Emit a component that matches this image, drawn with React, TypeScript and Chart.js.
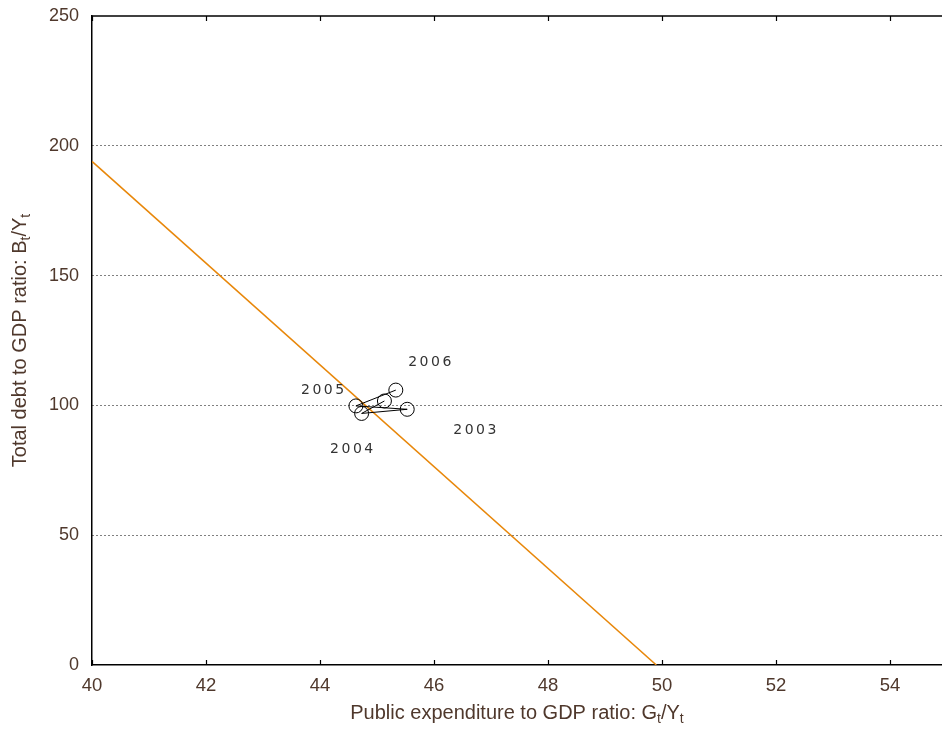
import React, { useEffect, useRef } from "react";
import { Chart, registerables } from "chart.js";

Chart.register(...registerables);

// Data
const xTicks = [40, 42, 44, 46, 48, 50, 52, 54];
const yTicks = [0, 50, 100, 150, 200, 250];
const frontierX = [40, 49.9];
const frontierY = [194, 0];
const pathX = [45.13, 44.73, 45.53, 44.63, 45.33];
const pathY = [101.7, 96.9, 98.5, 99.8, 105.9];
const yearLabels = ["2003", "2004", "2005", "2006"];
const yearLabelX = [46.72, 44.56, 44.05, 45.93];
const yearLabelY = [90.5, 83.0, 105.8, 116.5];

const X_MIN = 40;
const X_MAX = 54.912;
const Y_MIN = 0;
const Y_MAX = 250;
const TEXT_COLOR = "#4f382c";
const FONT = "Liberation Sans, Arial, sans-serif";

function drawSubText(
  ctx: CanvasRenderingContext2D,
  parts: { t: string; sub?: boolean }[],
  size: number
) {
  let total = 0;
  for (const p of parts) {
    ctx.font = `${p.sub ? size * 0.7 : size}px ${FONT}`;
    total += ctx.measureText(p.t).width;
  }
  let x = -total / 2;
  for (const p of parts) {
    ctx.font = `${p.sub ? size * 0.7 : size}px ${FONT}`;
    ctx.fillText(p.t, x, p.sub ? size * 0.3 : 0);
    x += ctx.measureText(p.t).width;
  }
}

const customPlugin = {
  id: "custom",
  afterDatasetsDraw(chart: any) {
    const { ctx, scales, chartArea } = chart;
    const xs = scales.x;
    const ys = scales.y;
    ctx.save();
    // year labels
    ctx.font = `14px "DejaVu Sans", sans-serif`;
    (ctx as any).letterSpacing = "2.5px";
    ctx.fillStyle = "#333333";
    ctx.textAlign = "center";
    ctx.textBaseline = "middle";
    yearLabels.forEach((lab, i) => {
      ctx.fillText(lab, xs.getPixelForValue(yearLabelX[i]) + 1, ys.getPixelForValue(yearLabelY[i]));
    });
    (ctx as any).letterSpacing = "0px";
    // top border
    ctx.strokeStyle = "#000";
    ctx.lineWidth = 1.5;
    ctx.beginPath();
    ctx.moveTo(chartArea.left, chartArea.top);
    ctx.lineTo(chartArea.right, chartArea.top);
    ctx.stroke();
    // x tick marks (bottom and top, inward)
    ctx.lineWidth = 1.2;
    xTicks.forEach((v) => {
      const px = Math.round(xs.getPixelForValue(v)) + 0.5;
      ctx.beginPath();
      ctx.moveTo(px, chartArea.bottom);
      ctx.lineTo(px, chartArea.bottom - 5);
      ctx.moveTo(px, chartArea.top);
      ctx.lineTo(px, chartArea.top + 5);
      ctx.stroke();
    });
    // axis titles with subscripts
    ctx.fillStyle = TEXT_COLOR;
    ctx.textAlign = "left";
    ctx.textBaseline = "middle";
    ctx.save();
    ctx.translate((chartArea.left + chartArea.right) / 2, 713);
    drawSubText(
      ctx,
      [
        { t: "Public expenditure to GDP ratio: G" },
        { t: "t", sub: true },
        { t: "/Y" },
        { t: "t", sub: true },
      ],
      20
    );
    ctx.restore();
    ctx.save();
    ctx.translate(20, (chartArea.top + chartArea.bottom) / 2);
    ctx.rotate(-Math.PI / 2);
    drawSubText(
      ctx,
      [
        { t: "Total debt to GDP ratio: B" },
        { t: "t", sub: true },
        { t: "/Y" },
        { t: "t", sub: true },
      ],
      20
    );
    ctx.restore();
    ctx.restore();
  },
};

export default function App() {
  const ref = useRef<HTMLCanvasElement | null>(null);
  useEffect(() => {
    if (!ref.current) return;
    const frontier = frontierX.map((x, i) => ({ x, y: frontierY[i] }));
    const path = pathX.map((x, i) => ({ x, y: pathY[i] }));
    const chart = new Chart(ref.current, {
      type: "scatter",
      data: {
        datasets: [
          {
            data: path,
            showLine: true,
            borderColor: "#000",
            borderWidth: 1,
            pointRadius: 7,
            pointBorderWidth: 1,
            pointBorderColor: "#000",
            pointBackgroundColor: "rgba(0,0,0,0)",
            backgroundColor: "rgba(0,0,0,0)",
          },
          {
            data: frontier,
            showLine: true,
            borderColor: "#e8870a",
            borderWidth: 1.5,
            pointRadius: 0,
          },
        ],
      },
      options: {
        animation: false,
        responsive: false,
        devicePixelRatio: 1,
        layout: { autoPadding: false, padding: { left: 0, right: 0, top: 16, bottom: 0 } },
        plugins: {
          legend: { display: false },
          tooltip: { enabled: false },
        },
        scales: {
          x: {
            type: "linear",
            min: X_MIN,
            max: X_MAX,
            afterBuildTicks: (scale: any) => {
              scale.ticks = xTicks.map((v) => ({ value: v }));
            },
            afterFit: (scale: any) => {
              scale.height = 68;
              scale.paddingLeft = 0;
              scale.paddingRight = 0;
            },
            ticks: {
              color: TEXT_COLOR,
              font: { family: FONT, size: 18.5 },
              padding: 10,
              maxRotation: 0,
              autoSkip: false,
            },
            grid: { display: false, drawTicks: false },
            border: { display: true, color: "#000", width: 1.5 },
          },
          y: {
            type: "linear",
            min: Y_MIN,
            max: Y_MAX,
            afterBuildTicks: (scale: any) => {
              scale.ticks = yTicks.map((v) => ({ value: v }));
            },
            afterFit: (scale: any) => {
              scale.width = 92;
              scale.paddingTop = 0;
              scale.paddingBottom = 0;
            },
            ticks: {
              color: TEXT_COLOR,
              font: { family: FONT, size: 18 },
              padding: 13,
            },
            grid: {
              drawTicks: false,
              color: (c: any) =>
                c.tick && (c.tick.value === 0 || c.tick.value === 250)
                  ? "rgba(0,0,0,0)"
                  : "#000",
              lineWidth: 1,
            },
            border: { display: true, color: "#000", width: 1.5, dash: [1, 3] },
          },
        },
      } as any,
      plugins: [customPlugin],
    });
    return () => chart.destroy();
  }, []);
  return (
    <div style={{ position: "fixed", left: 0, top: 0, width: 942, height: 733, background: "#fff" }}>
      <canvas ref={ref} width={942} height={733} />
    </div>
  );
}
